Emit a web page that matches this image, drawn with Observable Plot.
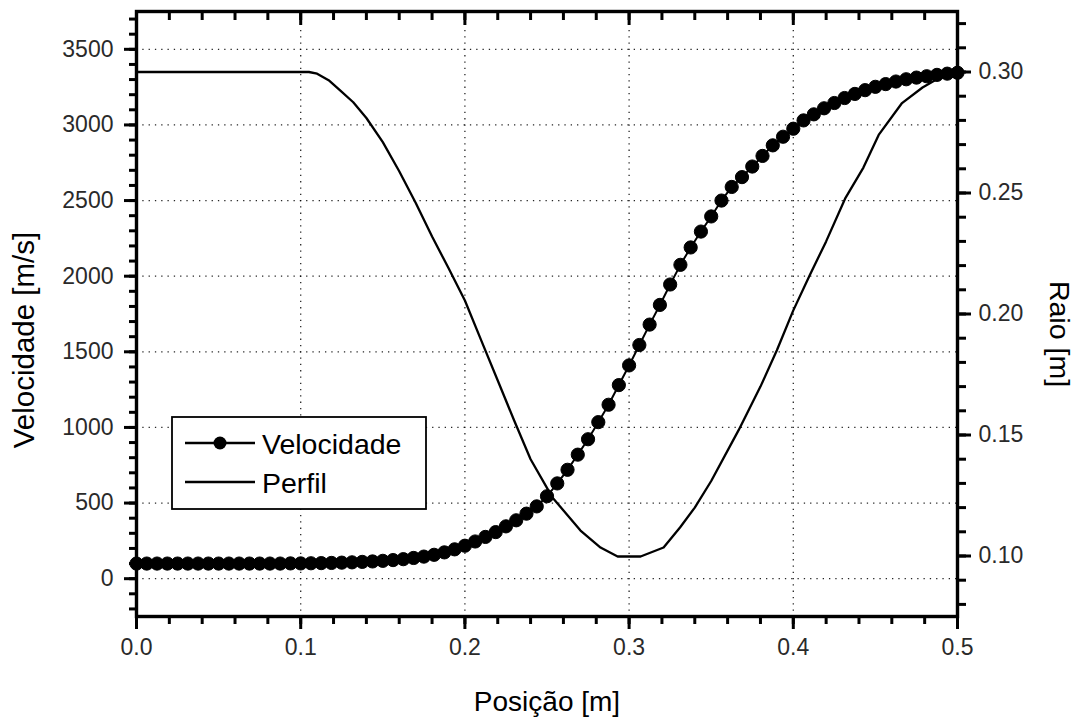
<!DOCTYPE html>
<html>
<head>
<meta charset="utf-8">
<script src="https://cdn.jsdelivr.net/npm/d3@7"></script>
<script src="https://cdn.jsdelivr.net/npm/@observablehq/plot@0.6"></script>
<style>
  html, body { margin: 0; padding: 0; background: #fff; }
  #chart { width: 1077px; height: 720px; }
</style>
</head>
<body>
<div id="chart"></div>
<script>
// ---- Data ----
const velPos = [0,0.00625,0.0125,0.01875,0.025,0.03125,0.0375,0.04375,0.05,0.05625,0.0625,0.06875,0.075,0.08125,0.0875,0.09375,0.1,
  0.10625,0.1125,0.11875,0.125,0.13125,0.1375,0.14375,0.15,0.15625,0.1625,0.16875,0.175,0.18125,0.1875,0.19375,0.2,
  0.20625,0.2125,0.21875,0.225,0.23125,0.2375,0.24375,0.25,0.25625,0.2625,0.26875,0.275,0.28125,0.2875,0.29375,0.3,
  0.30625,0.3125,0.31875,0.325,0.33125,0.3375,0.34375,0.35,0.35625,0.3625,0.36875,0.375,0.38125,0.3875,0.39375,0.4,
  0.40625,0.4125,0.41875,0.425,0.43125,0.4375,0.44375,0.45,0.45625,0.4625,0.46875,0.475,0.48125,0.4875,0.49375,0.5];
const velocidade = [100,100,100,100,100,100,100,100,100,100,100,100,100,100,100,101,101,
  102,103,104,106,108,111,114,118,123,129,137,146,158,174,194,218,
  246,276,308,346,386,430,478,545,630,720,820,922,1035,1150,1280,1410,
  1545,1680,1810,1945,2075,2190,2295,2395,2500,2590,2655,2725,2795,2865,2922,2975,
  3030,3070,3110,3145,3178,3205,3230,3252,3270,3287,3302,3313,3322,3331,3339,3345];

const perfilPos = [0,0.105,0.11,0.117,0.124,0.132,0.14,0.15,0.16,0.17,0.18,0.19,0.2,0.21,0.22,0.23,0.24,0.2533,0.2704,0.2826,0.293,0.307,0.321,0.331,0.34,0.35,0.3667,0.38,0.39,0.4,0.41,0.42,0.4318,0.4427,0.452,0.466,0.4787,0.49,0.5];
const perfilRaio = [0.30,0.30,0.2993,0.2966,0.2924,0.2875,0.281,0.271,0.259,0.246,0.232,0.219,0.2056,0.189,0.1725,0.156,0.140,0.1242,0.1105,0.1035,0.0998,0.0998,0.1035,0.1118,0.120,0.131,0.152,0.170,0.185,0.2015,0.216,0.230,0.248,0.2605,0.274,0.287,0.2936,0.298,0.30];

const xTicks = [0, 0.1, 0.2, 0.3, 0.4, 0.5];
const xMinorTicks = d3.range(0, 0.5001, 0.02).map(v => +v.toFixed(2));
const yTicks = [0, 500, 1000, 1500, 2000, 2500, 3000, 3500];
const yMinorTicks = d3.range(-200, 3701, 100);
const rTicks = [0.10, 0.15, 0.20, 0.25, 0.30];
const rMinorTicks = d3.range(0.08, 0.3201, 0.01).map(v => +v.toFixed(2));
const xGrid = [0.1, 0.2, 0.3, 0.4];

const velDomain = [-250, 3750];
const raioDomain = [0.075, 0.325];

// map right-axis (raio) values into the left (velocity) scale domain
const r2v = r => velDomain[0] + (r - raioDomain[0]) / (raioDomain[1] - raioDomain[0]) * (velDomain[1] - velDomain[0]);
const v2r = v => raioDomain[0] + (v - velDomain[0]) / (velDomain[1] - velDomain[0]) * (raioDomain[1] - raioDomain[0]);

const velData = velPos.map((x, i) => ({x, v: velocidade[i]}));
const perfilData = perfilPos.map((x, i) => ({x, v: r2v(perfilRaio[i])}));

const font = "'Liberation Sans', Arial, Helvetica, sans-serif";
const tickColor = "#2a2a2a";
const tw = 3;

const chart = Plot.plot({
  width: 1077,
  height: 720,
  marginLeft: 136,
  marginRight: 120,
  marginTop: 11,
  marginBottom: 104,
  style: {fontFamily: font, background: "#fff", color: "#000"},
  x: {domain: [0, 0.5]},
  y: {domain: velDomain},
  marks: [
    Plot.gridY(yTicks, {stroke: "#000", strokeOpacity: 0.85, strokeWidth: 1.3, strokeDasharray: "1.3,5"}),
    Plot.gridX(xGrid, {stroke: "#000", strokeOpacity: 0.85, strokeWidth: 1.3, strokeDasharray: "1.3,5"}),
    Plot.line(perfilData, {x: "x", y: "v", stroke: "#000", strokeWidth: 2.3}),
    Plot.line(velData, {x: "x", y: "v", stroke: "#000", strokeWidth: 2}),
    Plot.dot(velData, {x: "x", y: "v", r: 6.6, fill: "#000", stroke: "#000", strokeWidth: 1}),
    Plot.frame({stroke: "#000", strokeWidth: 3.4}),
    // left axis
    Plot.axisY(yTicks, {anchor: "left", tickSize: 12, tickPadding: 11, strokeWidth: tw, fontSize: 23, fill: tickColor, label: null, tickFormat: d3.format("d")}),
    Plot.axisY(yMinorTicks, {anchor: "left", tickSize: 7, strokeWidth: tw, fill: "none", label: null}),
    // right axis (Raio)
    Plot.axisY(rTicks.map(r2v), {anchor: "right", tickSize: 13, tickPadding: 8, strokeWidth: tw, fontSize: 23, fill: tickColor, label: null,
      tickFormat: v => v2r(v).toFixed(2)}),
    Plot.axisY(rMinorTicks.map(r2v), {anchor: "right", tickSize: 8, strokeWidth: tw, fill: "none", label: null}),
    // bottom axis
    Plot.axisX(xTicks, {anchor: "bottom", tickSize: 13, tickPadding: 9, strokeWidth: tw, fontSize: 23, fill: tickColor, label: null, tickFormat: d3.format(".1f")}),
    Plot.axisX(xMinorTicks, {anchor: "bottom", tickSize: 8, strokeWidth: tw, fill: "none", label: null}),
    // top axis (ticks inward)
    Plot.axisX(xTicks, {anchor: "top", tickSize: -13, strokeWidth: tw, fill: "none", label: null}),
    Plot.axisX(xMinorTicks, {anchor: "top", tickSize: -8, strokeWidth: tw, fill: "none", label: null}),
    // axis titles
    Plot.text(["Posição [m]"], {frameAnchor: "bottom", text: d => d, dy: 86, lineAnchor: "middle", textAnchor: "middle", fontSize: 28, fill: "#000"}),
    Plot.text(["Velocidade [m/s]"], {frameAnchor: "left", text: d => d, rotate: -90, dx: -112, dy: 26, lineAnchor: "middle", textAnchor: "middle", fontSize: 29.5, fill: "#000"}),
    Plot.text(["Raio [m]"], {frameAnchor: "right", text: d => d, rotate: 90, dx: 102, dy: 20, lineAnchor: "middle", textAnchor: "middle", fontSize: 28.5, fill: "#000"})
  ]
});

// make sure axis tick strokes are heavy like the reference
d3.select(chart).selectAll('[aria-label$="tick"]').attr("stroke-width", tw);

// Legend (drawn in screen space inside the chart svg)
const svg = d3.select(chart);
const lg = svg.append("g").attr("font-family", font).attr("font-size", 28.5).attr("text-anchor", "start");
lg.append("rect").attr("x", 172).attr("y", 417).attr("width", 254).attr("height", 92)
  .attr("fill", "#fff").attr("stroke", "#000").attr("stroke-width", 1.8);
const legendItems = [{label: "Velocidade", marker: true}, {label: "Perfil", marker: false}];
legendItems.forEach((it, i) => {
  const cy = 443 + i * 39;
  lg.append("line").attr("x1", 185).attr("x2", 255).attr("y1", cy).attr("y2", cy)
    .attr("stroke", "#000").attr("stroke-width", 2.4);
  if (it.marker) lg.append("circle").attr("cx", 220).attr("cy", cy).attr("r", 6.5).attr("fill", "#000");
  lg.append("text").attr("x", 262).attr("y", cy + 11).attr("text-anchor", "start").attr("fill", "#000").text(it.label);
});

document.getElementById("chart").appendChild(chart);
</script>
</body>
</html>
